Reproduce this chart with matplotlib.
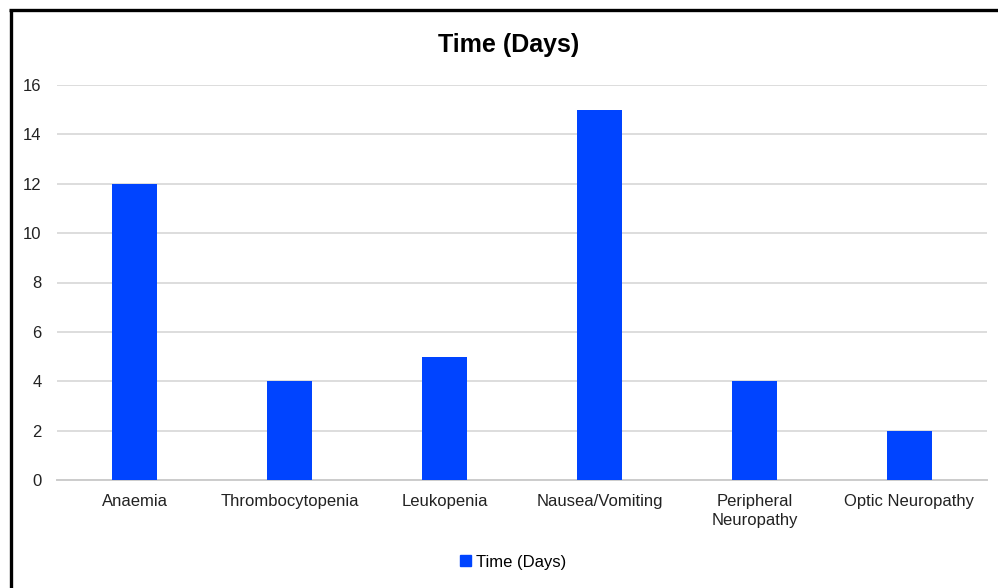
import matplotlib
matplotlib.use("Agg")
import matplotlib.pyplot as plt
from matplotlib.lines import Line2D

categories = ["Anaemia", "Thrombocytopenia", "Leukopenia", "Nausea/Vomiting",
              "Peripheral\nNeuropathy", "Optic Neuropathy"]
values = [12, 4, 5, 15, 4, 2]
yticks = [0, 2, 4, 6, 8, 10, 12, 14, 16]
series_name = "Time (Days)"

plt.rcParams['font.family'] = ['Liberation Sans', 'DejaVu Sans']

fig = plt.figure(figsize=(9.98, 5.88), dpi=100)
ax = fig.add_axes([57/998, 1-480/588, (987-57)/998, (480-85)/588])

color = '#0044FF'
x = list(range(len(categories)))
ax.bar(x, values, width=0.29, color=color, label=series_name, zorder=3)
ax.set_xlim(-0.5, len(categories)-0.5)
ax.set_ylim(0, 16)
ax.set_yticks(yticks)
ax.set_xticks(x)
ax.set_xticklabels(categories, fontsize=12, color='#222222', linespacing=1.35)
ax.tick_params(axis='y', labelsize=12, colors='#222222', length=0, pad=11)
ax.tick_params(axis='x', length=0, pad=10)
ax.grid(axis='y', color='#dddddd', linewidth=1.4, zorder=0)
for s in ['top', 'right', 'left']:
    ax.spines[s].set_visible(False)
ax.spines['bottom'].set_color('#cccccc')
ax.spines['bottom'].set_linewidth(1.4)

fig.text(509/998, 1-45/588, "Time (Days)", ha='center', va='center',
         fontsize=18, fontweight='bold', color='#000000')

fig.legend(handles=[plt.Rectangle((0, 0), 1, 1, color=color)], labels=[series_name],
           loc='center', bbox_to_anchor=(513/998, 1-562/588), frameon=False,
           fontsize=12, handlelength=0.65, handleheight=0.65, handletextpad=0.3)

# border (left and top)
fig.add_artist(Line2D([10.5/998, 10.5/998], [0, 1-9.5/588], transform=fig.transFigure,
                      color='black', linewidth=2.4, solid_capstyle='butt'))
fig.add_artist(Line2D([9/998, 1], [1-9.5/588, 1-9.5/588], transform=fig.transFigure,
                      color='black', linewidth=2.4, solid_capstyle='butt'))

fig.savefig("out.png", dpi=100)
